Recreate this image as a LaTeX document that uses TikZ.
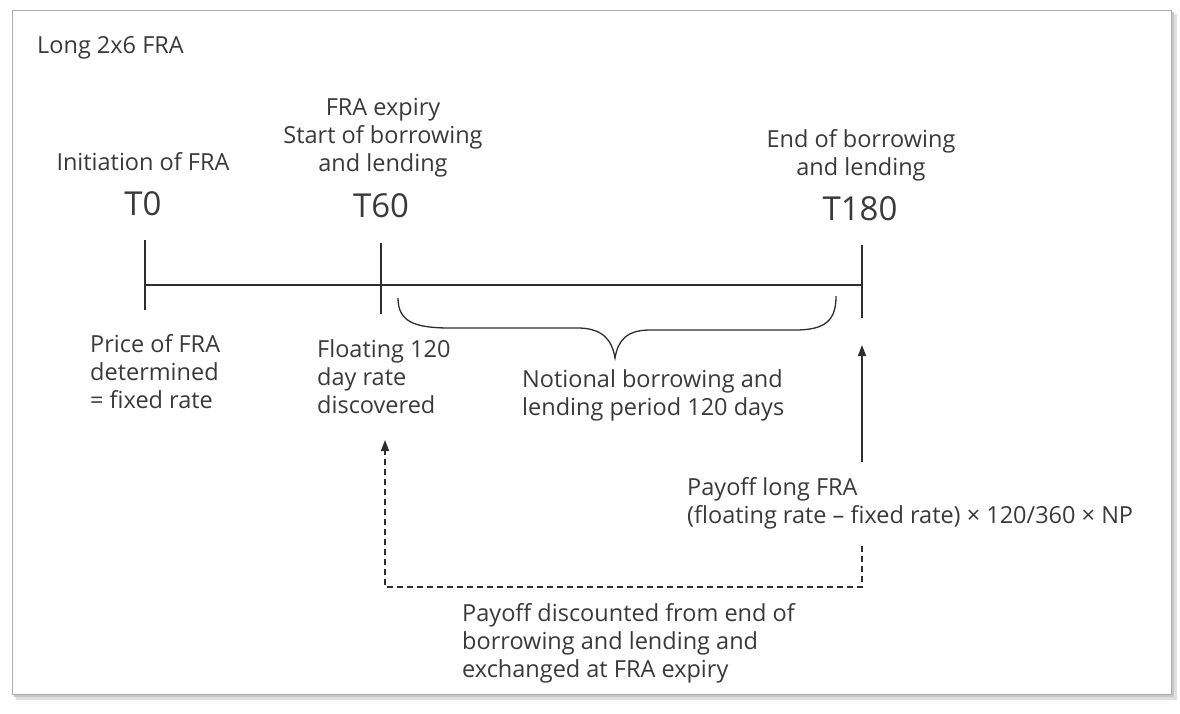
\documentclass[tikz,border=0pt]{standalone}
\usepackage{fontspec}
\setmainfont{Open Sans}
\usetikzlibrary{arrows.meta}
\definecolor{txt}{HTML}{3A3A3A}
\definecolor{ln}{HTML}{2E2E2E}
\newcommand{\mlines}[2]{\begin{tabular}[t]{@{}#1@{}}#2\end{tabular}}
\tikzset{
  lbl/.style={inner sep=0pt, text=txt, font=\fontsize{23.5}{28}\selectfont},
  tlbl/.style={inner sep=0pt, text=txt, font=\fontsize{33}{36}\selectfont},
  tline/.style={draw=ln, line width=1.6pt},
  tick/.style={draw=ln, line width=1.6pt},
  arr/.style={draw=ln, line width=1.5pt, -{Triangle[length=11pt,width=8pt]}},
  darr/.style={draw=ln, line width=1.4pt, dash pattern=on 6pt off 4pt, -{Triangle[length=11pt,width=8pt]}}
}
\begin{document}
\begin{tikzpicture}[x=1pt,y=-1pt]
\useasboundingbox (0,0) rectangle (1180,713);
% frame with shadow
\fill[gray!25] (16,14) rectangle (1177,700);
\fill[gray!45] (14,12) rectangle (1174,697);
\filldraw[fill=white, draw=gray!65, line width=1pt] (12,10) rectangle (1171,694);

\node[lbl, anchor=base west] (title) at (37,53) {Long 2x6 FRA};

% timeline points
\coordinate (t0) at (145,285);
\coordinate (t60) at (381,285);
\coordinate (t180) at (862,285);
\draw[tline] (t0) -- (t180);
\draw[tick] (145,240) -- (145,310);
\draw[tick] (381,243) -- (381,314);
\draw[tick] (862,245) -- (862,318);

% labels above
\node[lbl, anchor=base] (init) at (143,170) {Initiation of FRA};
\node[tlbl, anchor=base] (T0) at (143,215) {T0};
\node[lbl, anchor=base] (expiry) at (383,115) {\mlines{c}{FRA expiry\\Start of borrowing\\and lending}};
\node[tlbl, anchor=base] (T60) at (381,217) {T60};
\node[lbl, anchor=base] (endb) at (861,147) {\mlines{c}{End of borrowing\\and lending}};
\node[tlbl, anchor=base] (T180) at (860,220) {T180};

% labels below
\node[lbl, anchor=base west] (price) at (90,352) {\mlines{l}{Price of FRA\\determined\\= fixed rate}};
\node[lbl, anchor=base west] (floating) at (317,357) {\mlines{l}{Floating 120\\day rate\\discovered}};
\node[lbl, anchor=base west] (notional) at (522,387) {\mlines{l}{Notional borrowing and\\lending period 120 days}};
\node[lbl, anchor=base west] (payoff) at (687,495) {\mlines{l}{Payoff long FRA\\(floating rate – fixed rate) × 120/360 × NP}};
\node[lbl, anchor=base west] (disc) at (462,621) {\mlines{l}{Payoff discounted from end of\\borrowing and lending and\\exchanged at FRA expiry}};

% brace
\draw[draw=ln, line width=1.3pt] (398,298) .. controls (398,322) and (415,328) .. (450,328)
  -- (580,328) .. controls (603,329) and (612,340) .. (615,358)
  .. controls (618,340) and (627,330) .. (650,330)
  -- (795,330) .. controls (826,330) and (836,320) .. (836,296);

% arrows
\coordinate (pa) at (862,462);
\coordinate (pt) at (862,345);
\draw[arr] (pa) -- (pt);
\coordinate (ds) at (862,546);
\coordinate (dc1) at (862,587);
\coordinate (dc2) at (385,587);
\coordinate (de) at (385,440);
\draw[darr] (ds) -- (dc1) -- (dc2) -- (de);
\end{tikzpicture}
\end{document}
